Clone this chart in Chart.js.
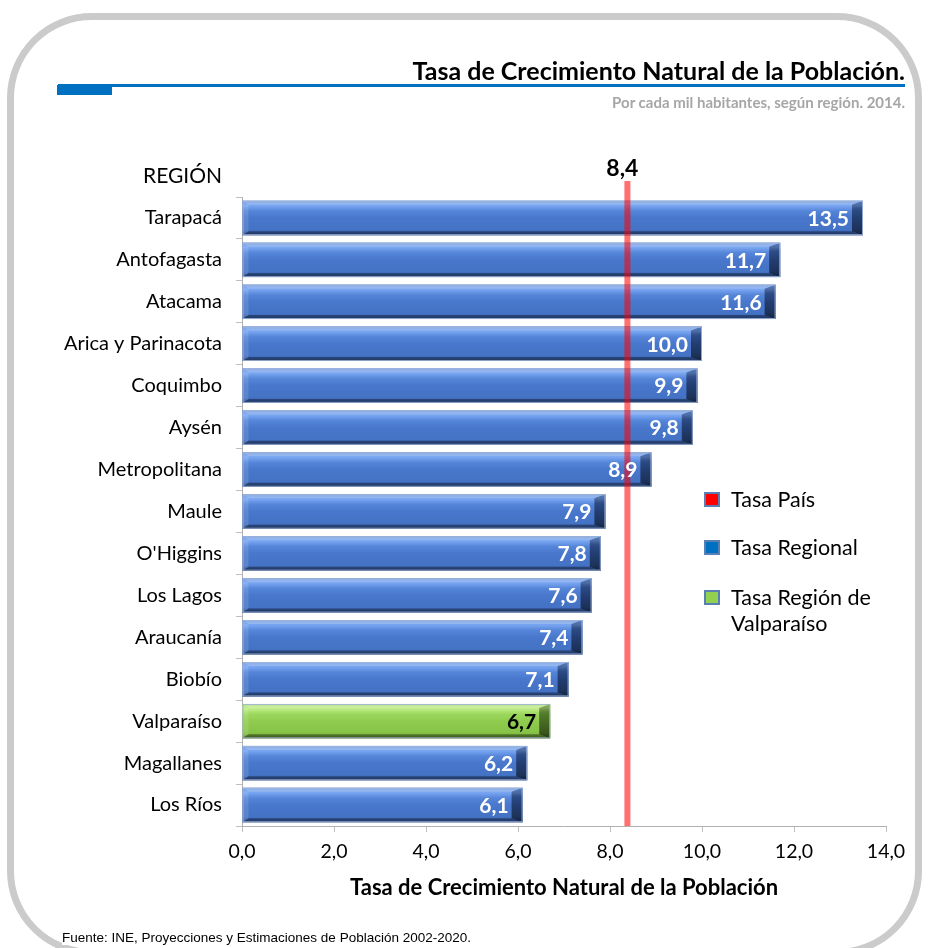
<!DOCTYPE html>
<html><head><meta charset="utf-8">
<script src="https://cdn.jsdelivr.net/npm/chart.js@4.4.1/dist/chart.umd.min.js"></script>
<style>
html,body{margin:0;padding:0;background:#fff}
body{width:928px;height:948px;position:relative;overflow:hidden;font-family:Lato,'Open Sans',sans-serif}
#frame{position:absolute;left:7px;top:13px;width:915px;height:943px;border:7px solid #cbcbcb;border-radius:85px;box-sizing:border-box}
#c{position:absolute;left:0;top:0}
.t{position:absolute;white-space:nowrap;line-height:1}
#title{right:23px;top:58px;font-size:25px;font-weight:700;color:#000}
#sub{right:23px;top:95px;font-size:15px;font-weight:700;color:#a6a6a6}
#rule{position:absolute;left:58px;top:84px;width:847px;height:3px;background:#0070c0}
#block{position:absolute;left:57px;top:85px;width:55px;height:10px;background:#0070c0}
#region{left:143px;top:164px;font-size:21px;color:#000}
#src{left:62px;top:931px;font-family:'Liberation Sans',Arial,sans-serif;font-size:13.5px;color:#000;background:#fff}
.lg{position:absolute;left:704px;font-size:21.5px;color:#000;line-height:26px}
.lg i{position:absolute;left:0;top:6px;width:12px;height:11px;border:2px solid #5a7fb5}
.lg span{position:absolute;left:27px;top:0;white-space:nowrap}
</style></head>
<body>
<div id="frame"></div>
<canvas id="c" width="928" height="948"></canvas>
<div id="title" class="t">Tasa de Crecimiento Natural de la Población.</div>
<div id="rule"></div><div id="block"></div>
<div id="sub" class="t">Por cada mil habitantes, según región. 2014.</div>
<div id="region" class="t">REGIÓN</div>
<div class="lg" style="top:486px"><i style="background:#ff0000"></i><span>Tasa País</span></div>
<div class="lg" style="top:534px"><i style="background:#0070c0"></i><span>Tasa Regional</span></div>
<div class="lg" style="top:584px"><i style="background:#92d050"></i><span>Tasa Región de<br>Valparaíso</span></div>
<div id="src" class="t">Fuente: INE, Proyecciones y Estimaciones de Población 2002-2020.</div>
<script>
const regiones = ['Tarapacá', 'Antofagasta', 'Atacama', 'Arica y Parinacota', 'Coquimbo', 'Aysén',
  'Metropolitana', 'Maule', "O'Higgins", 'Los Lagos', 'Araucanía', 'Biobío', 'Valparaíso', 'Magallanes', 'Los Ríos'];
const tasas = [13.5, 11.7, 11.6, 10.0, 9.9, 9.8, 8.9, 7.9, 7.8, 7.6, 7.4, 7.1, 6.7, 6.2, 6.1];
const tasaPais = 8.4;
const destacada = 'Valparaíso';
const xMin = 0, xMax = 14, xStep = 2;

const FONT = 'Lato, "Open Sans", sans-serif';
const fmt = v => v.toFixed(1).replace('.', ',');
const isHi = i => regiones[i] === destacada;

// bevel look like the old office 3d bars
const blue = { stops: ['#6390de', '#79a6f2', '#5585d8', '#4877cc', '#4472c4', '#2c4d8c'], edge: 'rgba(15,35,80,0.6)' };
const green = { stops: ['#a6dc6a', '#c0ec8a', '#9ad75c', '#8fcc4e', '#86c246', '#577f28'], edge: 'rgba(35,65,10,0.6)' };

function bevel(ctx, el, pal) {
  const L = el.base, R = el.x, T = el.y - el.height / 2, B = el.y + el.height / 2;
  const g = ctx.createLinearGradient(0, T, 0, B);
  [0, 0.14, 0.3, 0.5, 0.85, 1].forEach((p, k) => g.addColorStop(p, pal.stops[k]));
  ctx.fillStyle = g; ctx.fillRect(L, T, R - L, B - T);
  const poly = (pts, c) => { ctx.beginPath(); pts.forEach(([x, y], k) => k ? ctx.lineTo(x, y) : ctx.moveTo(x, y)); ctx.closePath(); ctx.fillStyle = c; ctx.fill(); };
  const t = 4, b = 4, l = 6, r = 11;
  poly([[L, T], [R, T], [R - r, T + t], [L + l, T + t]], 'rgba(255,255,255,0.25)');
  poly([[L, B], [R, B], [R - r, B - b], [L + l, B - b]], 'rgba(0,0,0,0.32)');
  poly([[L, T], [L + l, T + t], [L + l, B - b], [L, B]], 'rgba(255,255,255,0.12)');
  const gr = ctx.createLinearGradient(0, T, 0, B);
  gr.addColorStop(0, 'rgba(0,0,0,0.15)'); gr.addColorStop(0.25, pal.edge); gr.addColorStop(1, 'rgba(0,0,0,0.6)');
  poly([[R, T], [R - r, T + t], [R - r, B - b], [R, B]], gr);
  ctx.strokeStyle = 'rgba(160,180,215,0.9)'; ctx.lineWidth = 1;
  ctx.strokeRect(L + 0.5, T + 0.5, R - L - 1, B - T - 1);
}

const extras = {
  id: 'extras',
  afterDatasetsDraw(chart) {
    const { ctx, chartArea, scales } = chart;
    const meta = chart.getDatasetMeta(0);
    ctx.save();
    meta.data.forEach((el, i) => bevel(ctx, el, isHi(i) ? green : blue));
    // national rate line
    const px = scales.x.getPixelForValue(tasaPais);
    ctx.strokeStyle = 'rgba(255,0,0,0.56)'; ctx.lineWidth = 6;
    ctx.beginPath(); ctx.moveTo(px - 1, chartArea.top - 16); ctx.lineTo(px - 1, chartArea.bottom); ctx.stroke();
    ctx.fillStyle = '#000'; ctx.font = `700 23px ${FONT}`;
    ctx.textAlign = 'center'; ctx.textBaseline = 'alphabetic';
    ctx.fillText(fmt(tasaPais), px - 6, chartArea.top - 21);
    // value labels
    ctx.font = `700 21px ${FONT}`; ctx.textAlign = 'right'; ctx.textBaseline = 'middle';
    meta.data.forEach((el, i) => {
      ctx.fillStyle = isHi(i) ? '#000' : '#fff';
      ctx.fillText(fmt(tasas[i]), el.x - 14, el.y + 1);
    });
    ctx.restore();
  }
};

new Chart(document.getElementById('c'), {
  type: 'bar',
  data: {
    labels: regiones,
    datasets: [{
      label: 'Tasa Regional',
      data: tasas,
      backgroundColor: tasas.map((v, i) => isHi(i) ? '#92d050' : '#4472c4'),
      barPercentage: 0.82,
      categoryPercentage: 1
    }]
  },
  options: {
    indexAxis: 'y',
    responsive: false,
    animation: false,
    devicePixelRatio: 1,
    layout: { padding: { left: 0, right: 42, top: 197, bottom: 43 } },
    plugins: { legend: { display: false }, tooltip: { enabled: false } },
    scales: {
      x: {
        min: xMin, max: xMax,
        ticks: { stepSize: xStep, color: '#000', font: { family: FONT, size: 19.5 }, padding: 8, callback: v => fmt(v) },
        grid: { drawOnChartArea: false, tickLength: 6, color: '#bfbfbf' },
        border: { color: '#b0b0b0' },
        title: { display: true, text: 'Tasa de Crecimiento Natural de la Población', color: '#000',
          font: { family: FONT, size: 22, weight: '700' }, padding: { top: 4, bottom: 4 } },
        afterFit: s => { s.height = 79; }
      },
      y: {
        ticks: { color: '#000', font: { family: FONT, size: 20 }, padding: 14 },
        grid: { drawOnChartArea: false, tickLength: 6, color: '#bfbfbf' },
        border: { color: '#b0b0b0' },
        afterFit: s => { s.width = 242; }
      }
    }
  },
  plugins: [extras]
});
</script>
</body></html>
